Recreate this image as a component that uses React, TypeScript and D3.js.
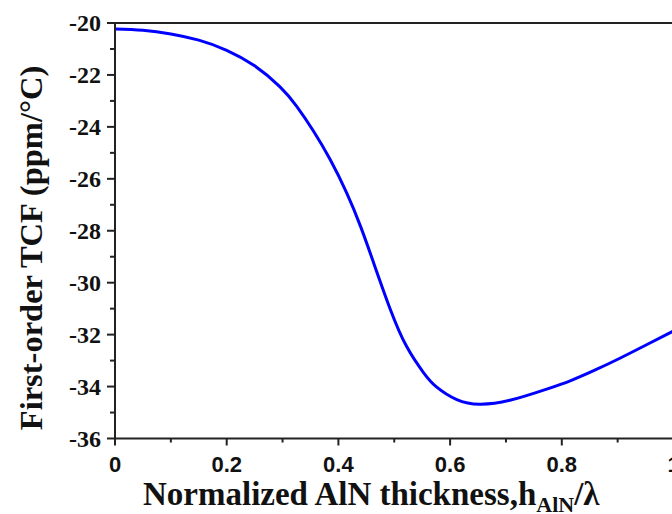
import React from "react";
import * as d3 from "d3";

const thickness = [0, 0.05, 0.1, 0.15, 0.2, 0.25, 0.295, 0.325, 0.355, 0.385, 0.415, 0.44, 0.4625, 0.4925, 0.522, 0.552, 0.575, 0.612, 0.653, 0.707, 0.773, 0.815, 0.86, 0.904, 0.95, 1.0];
const tcf = [-20.23, -20.28, -20.42, -20.66, -21.05, -21.65, -22.45, -23.2, -24.15, -25.25, -26.55, -27.85, -29.2, -31.0, -32.45, -33.45, -34.0, -34.5, -34.68, -34.53, -34.1, -33.78, -33.36, -32.91, -32.41, -31.86];
const xTicks = [0, 0.2, 0.4, 0.6, 0.8, 1.0];
const xMinor = [0.1, 0.3, 0.5, 0.7, 0.9];
const yTicks = [-20, -22, -24, -26, -28, -30, -32, -34, -36];
const yMinor = [-21, -23, -25, -27, -29, -31, -33, -35];

export default function App() {
  const W = 672, H = 514;
  const x = d3.scaleLinear().domain([0, 1]).range([115, 673.5]);
  const y = d3.scaleLinear().domain([-36, -20]).range([438.5, 23]);
  const line = d3.line<number>().x((_, i) => x(thickness[i])).y((d) => y(d)).curve(d3.curveNatural);
  const axisColor = "#222";
  const serif = "'Liberation Serif', 'Times New Roman', serif";
  return (
    <svg width={W} height={H} style={{ position: "absolute", left: 0, top: 0, background: "#fff" }}>
      <rect x={0} y={0} width={W} height={H} fill="#fff" />
      <path d={line(tcf) || ""} fill="none" stroke="#0000ff" strokeWidth={3} />
      <line x1={x(0)} x2={W} y1={y(-36)} y2={y(-36)} stroke={axisColor} strokeWidth={2} />
      <line x1={x(0)} x2={W} y1={y(-20)} y2={y(-20)} stroke={axisColor} strokeWidth={2} />
      <line x1={x(0)} x2={x(0)} y1={y(-20)} y2={y(-36)} stroke={axisColor} strokeWidth={2} />
      {yTicks.map((t) => (
        <g key={"y" + t}>
          <line x1={x(0) - 8} x2={x(0)} y1={y(t)} y2={y(t)} stroke={axisColor} strokeWidth={2} />
          <text x={101} y={y(t)} dy="0.35em" textAnchor="end" fontFamily={serif} fontWeight="bold" fontSize={24} fill="#111">
            {String(t)}
          </text>
        </g>
      ))}
      {yMinor.map((t) => (
        <line key={"ym" + t} x1={x(0) - 5} x2={x(0)} y1={y(t)} y2={y(t)} stroke={axisColor} strokeWidth={2} />
      ))}
      {xTicks.map((t) => (
        <g key={"x" + t}>
          <line x1={x(t)} x2={x(t)} y1={y(-36)} y2={y(-36) + 7} stroke={axisColor} strokeWidth={2} />
          <text x={x(t)} y={472} textAnchor="middle" fontFamily="'Liberation Sans', Arial, sans-serif" fontWeight="bold" fontSize={22} fill="#111">
            {t === 0 ? "0" : t === 1 ? "1" : d3.format(".1f")(t)}
          </text>
        </g>
      ))}
      {xMinor.map((t) => (
        <line key={"xm" + t} x1={x(t)} x2={x(t)} y1={y(-36)} y2={y(-36) + 4} stroke={axisColor} strokeWidth={2} />
      ))}
      <text transform={`translate(42,248) rotate(-90)`} textAnchor="middle" fontFamily={serif} fontWeight="bold" fontSize={32.5} fill="#111">
        First-order TCF (ppm/°C)
      </text>
      <text x={143} y={505} fontFamily={serif} fontWeight="bold" fontSize={33} fill="#111">
        Normalized AlN thickness,h
        <tspan fontSize={22} dy={7}>AlN</tspan>
        <tspan dy={-7}>/λ</tspan>
      </text>
    </svg>
  );
}
